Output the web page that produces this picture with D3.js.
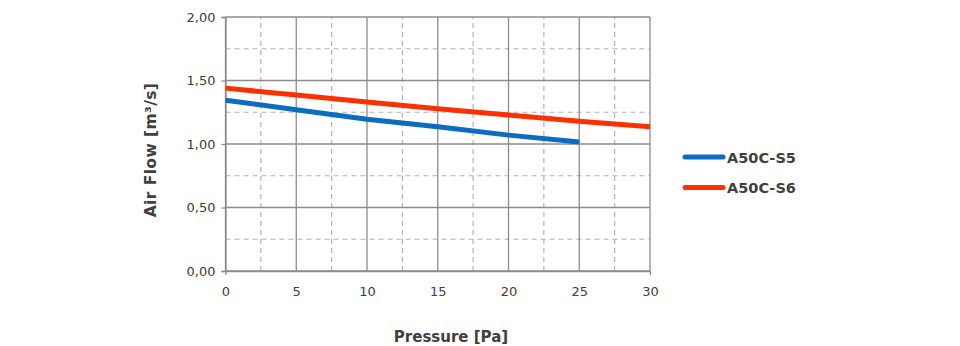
<!DOCTYPE html>
<html><head><meta charset="utf-8">
<script src="https://cdn.jsdelivr.net/npm/d3@7"></script>
<style>body{margin:0;background:#fff}</style>
</head><body><svg id="c" width="960" height="346"></svg>
<script>
const pressureS5 = [0, 5, 10, 15, 20, 25];
const flowS5 = [1.345, 1.27, 1.195, 1.135, 1.07, 1.015];
const pressureS6 = [0, 5, 10, 15, 20, 25, 30];
const flowS6 = [1.44, 1.385, 1.33, 1.278, 1.228, 1.18, 1.135];
const seriesNames = ["A50C-S5", "A50C-S6"];
const seriesColors = ["#0a6cc2", "#ff3000"];
const xTicks = [0, 5, 10, 15, 20, 25, 30];
const yTicks = [0, 0.5, 1.0, 1.5, 2.0];
const xMinor = [2.5, 7.5, 12.5, 17.5, 22.5, 27.5];
const yMinor = [0.25, 0.75, 1.25, 1.75];

const svg = d3.select("#c");
const font = "Tahoma, 'DejaVu Sans', Verdana, sans-serif";
const x = d3.scaleLinear().domain([0, 30]).range([225.5, 650]);
const y = d3.scaleLinear().domain([0, 2]).range([271, 17]);

const g = svg.append("g");
g.selectAll(".vx").data(xMinor).join("line")
  .attr("x1", d => x(d)).attr("x2", d => x(d)).attr("y1", y(0)).attr("y2", y(2))
  .attr("stroke", "#b3b3b3").attr("stroke-width", 1.2).attr("stroke-dasharray", "5,4");
g.selectAll(".hy").data(yMinor).join("line")
  .attr("y1", d => y(d)).attr("y2", d => y(d)).attr("x1", x(0)).attr("x2", x(30))
  .attr("stroke", "#b3b3b3").attr("stroke-width", 1.2).attr("stroke-dasharray", "5,4");
g.selectAll(".mx").data(xTicks).join("line")
  .attr("x1", d => x(d)).attr("x2", d => x(d)).attr("y1", y(0)).attr("y2", y(2))
  .attr("stroke", "#8c8c8c").attr("stroke-width", 1.3);
g.selectAll(".my").data(yTicks).join("line")
  .attr("y1", d => y(d)).attr("y2", d => y(d)).attr("x1", x(0)).attr("x2", x(30))
  .attr("stroke", "#8c8c8c").attr("stroke-width", 1.3);

const fmt = d3.format(".2f");
const yAxis = d3.axisLeft(y).tickValues(yTicks).tickSize(4).tickPadding(6)
  .tickFormat(d => fmt(d).replace(".", ","));
const ya = svg.append("g").attr("transform", `translate(${x(0)},0)`).call(yAxis);
const xAxis = d3.axisBottom(x).tickValues(xTicks).tickSize(4).tickPadding(12);
const xa = svg.append("g").attr("transform", `translate(0,${y(0)})`).call(xAxis);
[ya, xa].forEach(a => {
  a.select(".domain").attr("stroke", "#8c8c8c").attr("stroke-width", 1.3);
  a.selectAll(".tick line").attr("stroke", "#8c8c8c").attr("stroke-width", 1.3);
  a.selectAll("text").attr("fill", "#404040").style("font-family", font).style("font-size", "13px");
});
xa.selectAll(".tick line").attr("y2", 0);

const line = d3.line().x(d => x(d[0])).y(d => y(d[1]));
const data = [d3.zip(pressureS5, flowS5), d3.zip(pressureS6, flowS6)];
svg.selectAll(".series").data(data).join("path")
  .attr("d", line).attr("fill", "none")
  .attr("stroke", (d, i) => seriesColors[i]).attr("stroke-width", 5);

const lg = svg.selectAll(".lg").data(seriesNames).join("g")
  .attr("transform", (d, i) => `translate(685,${157 + i * 30.5})`);
lg.append("line").attr("x1", 0).attr("x2", 38)
  .attr("stroke", (d, i) => seriesColors[i]).attr("stroke-width", 5).attr("stroke-linecap", "round");
lg.append("text").attr("x", 42).attr("y", 5.5).text(d => d)
  .attr("fill", "#404040").style("font-family", font).style("font-size", "14.5px").style("font-weight", "bold");

svg.append("text").attr("x", 451).attr("y", 342).attr("text-anchor", "middle")
  .text("Pressure [Pa]").attr("fill", "#404040")
  .style("font-family", font).style("font-size", "15px").style("font-weight", "bold");
svg.append("text").attr("transform", "translate(156,150) rotate(-90)").attr("text-anchor", "middle")
  .text("Air Flow [m³/s]").attr("fill", "#404040")
  .style("font-family", font).style("font-size", "15.5px").style("font-weight", "bold")
  .style("letter-spacing", "0.4px");
</script></body></html>
